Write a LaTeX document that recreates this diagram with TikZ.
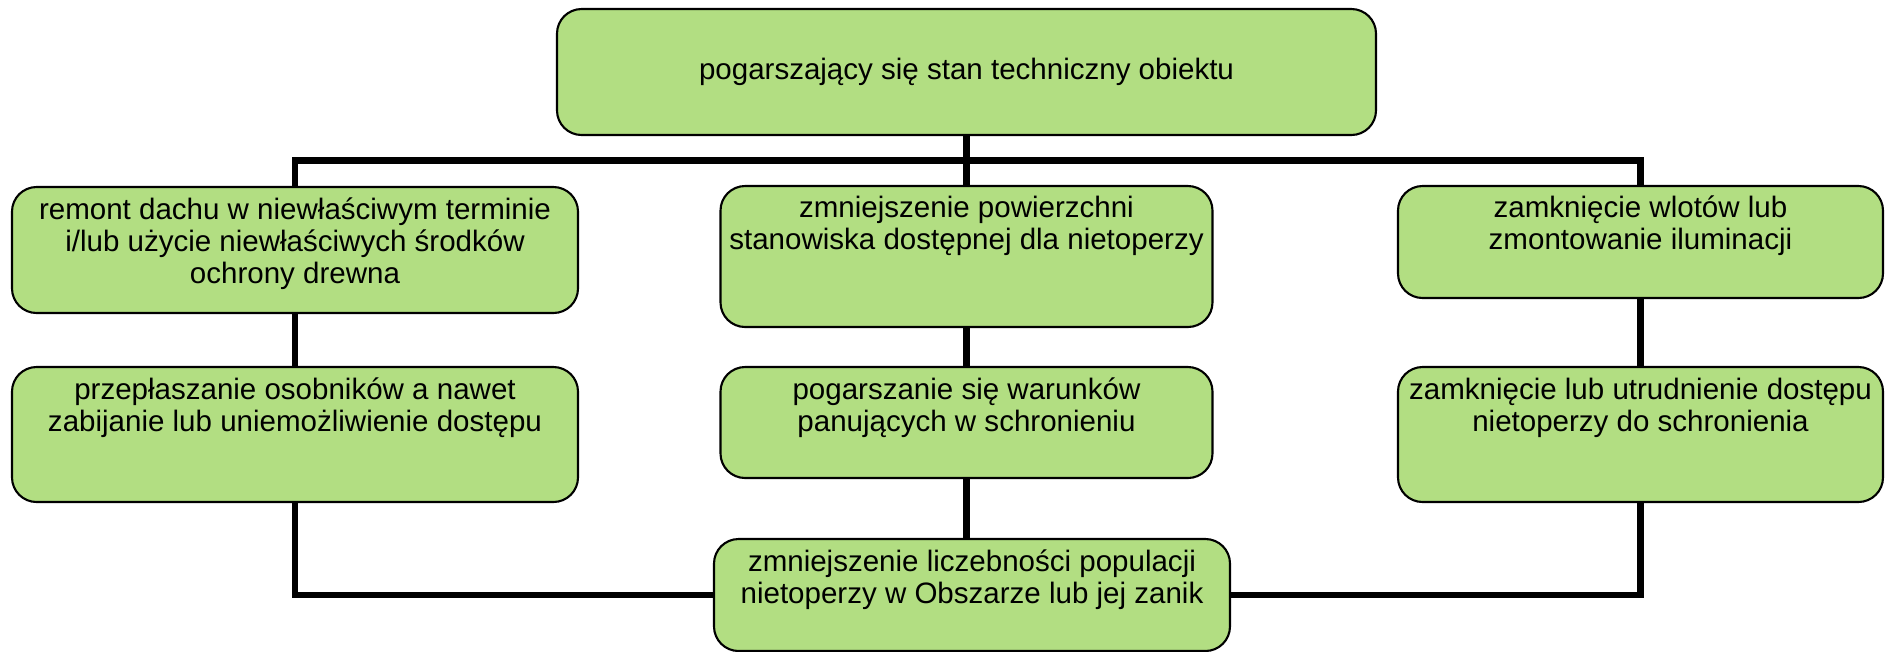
\documentclass[tikz,border=0pt]{standalone}
\usepackage{fontspec}
\setmainfont{Liberation Sans}
\usepackage{tikz}
\usetikzlibrary{positioning, calc}
\definecolor{boxgreen}{HTML}{B2DE82}
\definecolor{inkprimary}{HTML}{000000}

\begin{document}
\begin{tikzpicture}[
  box/.style={draw=inkprimary, fill=boxgreen, rounded corners=7pt, line width=0.6pt, inner sep=0pt},
  txt/.style={font=\fontsize{8.4}{9.1}\selectfont, align=center, inner sep=0pt, anchor=north},
  wire/.style={inkprimary, line width=1.8pt}
]
\useasboundingbox (0,0) rectangle (18.87,-6.51);

% ---- top ----
\node[box, minimum width=8.19cm, minimum height=1.26cm] (top) at (9.665,-0.72) {};
\node[font=\fontsize{8.4}{9.1}\selectfont, inner sep=0pt] (topT) at (top.center) {pogarszający się stan techniczny obiektu};

% ---- first row ----
\node[box, minimum width=5.66cm, minimum height=1.26cm] (roof) at (2.95,-2.50) {};
\node[box, minimum width=4.92cm, minimum height=1.41cm] (area) at (9.665,-2.565) {};
\node[box, minimum width=4.85cm, minimum height=1.12cm] (inlet) at (16.405,-2.42) {};
\node[txt] (roofT) at ($(roof.north)+(0,-0.11)$) {remont dachu w niewłaściwym terminie\\i/lub użycie niewłaściwych środków\\ochrony drewna};
\node[txt] (areaT) at ($(area.north)+(0,-0.10)$) {zmniejszenie powierzchni\\stanowiska dostępnej dla nietoperzy};
\node[txt] (inletT) at ($(inlet.north)+(0,-0.10)$) {zamknięcie wlotów lub\\zmontowanie iluminacji};

% ---- second row ----
\node[box, minimum width=5.66cm, minimum height=1.35cm] (scare) at (2.95,-4.345) {};
\node[box, minimum width=4.92cm, minimum height=1.11cm] (cond) at (9.665,-4.225) {};
\node[box, minimum width=4.85cm, minimum height=1.35cm] (block) at (16.405,-4.345) {};
\node[txt] (scareT) at ($(scare.north)+(0,-0.11)$) {przepłaszanie osobników a nawet\\zabijanie lub uniemożliwienie dostępu};
\node[txt] (condT) at ($(cond.north)+(0,-0.11)$) {pogarszanie się warunków\\panujących w schronieniu};
\node[txt] (blockT) at ($(block.north)+(0,-0.11)$) {zamknięcie lub utrudnienie dostępu\\nietoperzy do schronienia};

% ---- result ----
\node[box, minimum width=5.16cm, minimum height=1.12cm] (loss) at (9.72,-5.95) {};
\node[txt] (lossT) at ($(loss.north)+(0,-0.11)$) {zmniejszenie liczebności populacji\\nietoperzy w Obszarze lub jej zanik};

% ---- connectors ----
\coordinate (bus) at (9.665,-1.605);
\draw[wire] (top) -- (area);
\draw[wire] (roof.north) |- (bus) -| (inlet.north);
\draw[wire] (roof) -- (scare);
\draw[wire] (area) -- (cond);
\draw[wire] (inlet) -- (block);
\draw[wire] (cond.south) -- (cond.south |- loss.north);
\draw[wire] (scare.south) |- (loss.west);
\draw[wire] (block.south) |- (loss.east);
\end{tikzpicture}
\end{document}
